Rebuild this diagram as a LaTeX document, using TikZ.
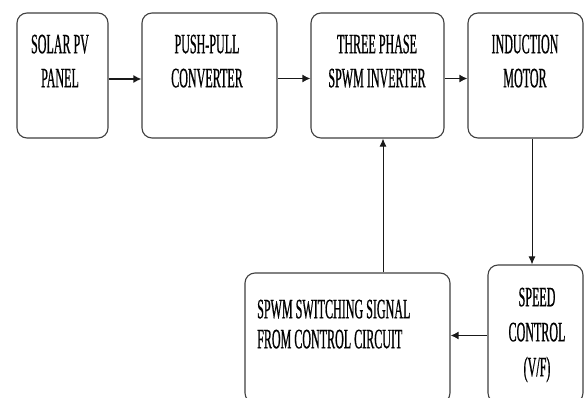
\documentclass[tikz,border=0pt]{standalone}
\usepackage{fontspec}
\setmainfont{Liberation Serif}
\newfontfamily\narrowserif[FakeStretch=0.43,FakeBold=0.6]{Liberation Serif}
\usetikzlibrary{arrows.meta}
\tikzset{
  blockbox/.style={draw=black!75, line width=1.1pt, rounded corners=10pt, inner sep=0pt, fill=white},
  blocktext/.style={inner sep=0pt, align=center, anchor=north, font=\narrowserif\fontsize{28}{34}\selectfont},
  arr/.style={draw=black!90, line width=1.5pt, -{Latex[length=8pt,width=8pt]}},
  varr/.style={draw=black!90, line width=1pt, -{Latex[length=8pt,width=7pt]}}
}
\begin{document}
\begin{tikzpicture}[x=1pt,y=-1pt]
\useasboundingbox (0,0) rectangle (585,398);
\clip (0,0) rectangle (585,398);
\fill[white] (0,0) rectangle (585,398);
% boxes
\node[blockbox, minimum width=91pt, minimum height=125pt] (b1) at (62.5,75.5) {};
\node[blockbox, minimum width=135pt, minimum height=125pt] (b2) at (209.5,75.5) {};
\node[blockbox, minimum width=133pt, minimum height=125pt] (b3) at (377.5,75.5) {};
\node[blockbox, minimum width=115pt, minimum height=125pt] (b4) at (525.5,75.5) {};
\node[blockbox, minimum width=205pt, minimum height=130pt] (b5) at (347.5,338) {};
\node[blockbox, minimum width=95pt, minimum height=138pt] (b6) at (535.5,334) {};
% texts
\node[blocktext] (t1) at (60,34.5) {SOLAR PV\\PANEL};
\node[blocktext] (t2) at (207,34.5) {PUSH-PULL\\CONVERTER};
\node[blocktext] (t3) at (377,34.5) {THREE PHASE\\SPWM INVERTER};
\node[blocktext] (t4) at (525,34.5) {INDUCTION\\MOTOR};
\node[blocktext, align=left, anchor=north west, font=\narrowserif\fontsize{28}{30}\selectfont] (t5) at (257,299.5) {SPWM SWITCHING SIGNAL\\FROM CONTROL CIRCUIT};
\node[blocktext, font=\narrowserif\fontsize{28}{35}\selectfont] (t6) at (537,287.5) {SPEED\\CONTROL\\(V/F)};
% connectors
\coordinate (v1) at (532,0);
\coordinate (v2) at (383,0);
\draw[arr] ([yshift=-3.5pt]b1.east) -- ([yshift=-3.5pt]b2.west);
\draw[arr] ([yshift=-3pt]b2.east) -- ([yshift=-3pt]b3.west);
\draw[arr] ([yshift=-3pt]b3.east) -- ([yshift=-3pt]b4.west);
\draw[varr] (b4.south -| v1) -- (b6.north -| v1);
\draw[arr] ([yshift=-1.5pt]b6.west) -- ([yshift=-1.5pt]b6.west -| b5.east);
\draw[varr] (b5.north -| v2) -- (b3.south -| v2);
\end{tikzpicture}
\end{document}
